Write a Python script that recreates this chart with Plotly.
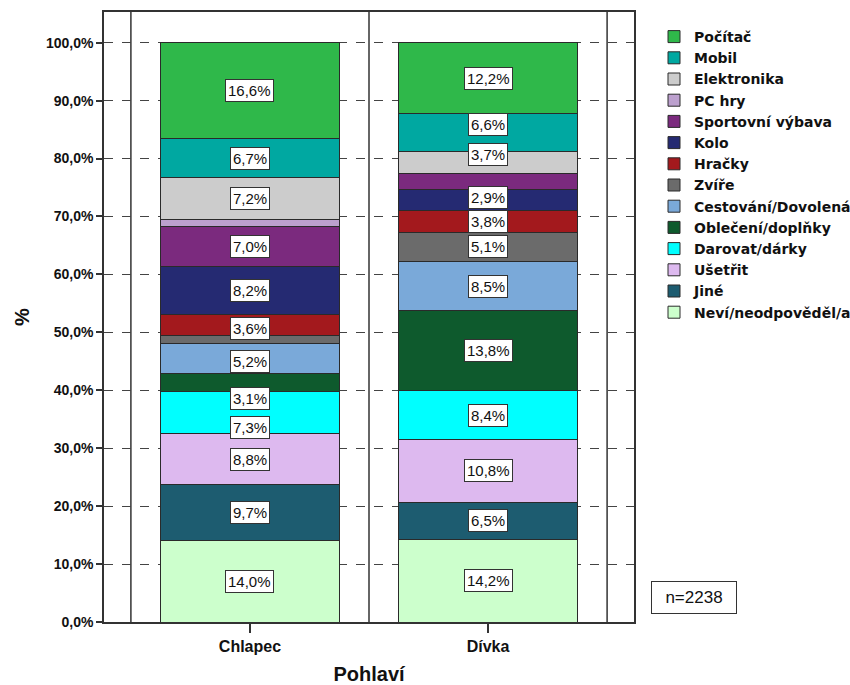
import plotly.graph_objects as go

categories = ["Chlapec", "Dívka"]

# series listed bottom -> top of stack
series_names = [
    "Neví/neodpověděl/a", "Jiné", "Ušetřit", "Darovat/dárky", "Oblečení/doplňky",
    "Cestování/Dovolená", "Zvíře", "Hračky", "Kolo", "Sportovní výbava",
    "PC hry", "Elektronika", "Mobil", "Počítač",
]
chlapec = [14.0, 9.7, 8.8, 7.3, 3.1, 5.2, 1.4, 3.6, 8.2, 7.0, 1.2, 7.2, 6.7, 16.6]
divka   = [14.2, 6.5, 10.8, 8.4, 13.8, 8.5, 5.1, 3.8, 3.5, 2.9, 0.0, 3.7, 6.6, 12.2]

colors = [
    "#CCFFCC", "#1D5C70", "#DDB9EF", "#00FFFF", "#0E5A2D",
    "#7AA9D9", "#6B6B6B", "#A3191D", "#252A72", "#7B2A7E",
    "#BCA0CE", "#CCCCCC", "#00A8A1", "#2FB84A",
]

y_ticks = [0, 10, 20, 30, 40, 50, 60, 70, 80, 90, 100]
y_ticktext = ["0,0%", "10,0%", "20,0%", "30,0%", "40,0%", "50,0%",
              "60,0%", "70,0%", "80,0%", "90,0%", "100,0%"]
n_text = "n=2238"

# label placement tweaks (in % units) and hidden labels, as in the original
label_nudge = {
    ("Oblečení/doplňky", 0): -2.7, ("Darovat/dárky", 0): -2.6,
    ("Cestování/Dovolená", 0): -0.5, ("Hračky", 0): -0.6,
    ("Mobil", 1): 1.3, ("Elektronika", 1): 1.4, ("Sportovní výbava", 1): -2.7,
}
label_hidden = {("Zvíře", 0), ("PC hry", 0), ("PC hry", 1), ("Kolo", 1)}

FONT = "Liberation Sans, Arial, sans-serif"
x_pos = [0, 1]

L, R, T, B = 104, 216, 12, 63
W, H = 850, 685
pw, ph = W - L - R, H - T - B

fig = go.Figure()
for i, name in enumerate(series_names):
    fig.add_trace(go.Bar(
        x=x_pos, y=[chlapec[i], divka[i]], name=name,
        marker=dict(color=colors[i], line=dict(color="#2a2a2a", width=1)),
        width=0.75, hoverinfo="name+y",
    ))

# value labels
annotations = []
for ci, vals in enumerate([chlapec, divka]):
    base = 0.0
    for i, v in enumerate(vals):
        name = series_names[i]
        center = base + v / 2
        base += v
        if (name, ci) in label_hidden or v <= 0:
            continue
        y = center + label_nudge.get((name, ci), 0)
        annotations.append(dict(
            x=x_pos[ci], y=y, xref="x", yref="y",
            xanchor="center", yanchor="middle",
            text=("%.1f%%" % v).replace(".", ","), showarrow=False,
            font=dict(family=FONT, size=15, color="#111"),
            bgcolor="white", bordercolor="#333", borderwidth=1, borderpad=2,
        ))

annotations.append(dict(
    x=(694 - L) / pw, y=(H - B - 597) / ph, xref="paper", yref="paper",
    xanchor="center", yanchor="middle",
    text=n_text, showarrow=False, width=84, height=31,
    font=dict(family=FONT, size=17, color="#111"),
    bgcolor="white", bordercolor="#333", borderwidth=1, borderpad=0,
))

fig.update_layout(
    template="none",
    width=W, height=H,
    margin=dict(l=L, r=R, t=T, b=B, autoexpand=False),
    paper_bgcolor="white", plot_bgcolor="white",
    barmode="stack", bargap=0.25,
    font=dict(family=FONT, color="#111"),
    showlegend=True,
    legend=dict(
        traceorder="reversed", x=(654 - L) / pw, y=(H - B - 21) / ph,
        xanchor="left", yanchor="top",
        font=dict(family="DejaVu Sans, sans-serif", size=14, color="#111", weight="bold"),
        bgcolor="rgba(0,0,0,0)", borderwidth=0, tracegroupgap=0,
    ),
    annotations=annotations,
)

fig.update_xaxes(
    range=[-0.613, 1.613], tickvals=x_pos, ticktext=categories,
    ticks="outside", ticklen=9, tickcolor="#333", tickwidth=1.5,
    tickfont=dict(family=FONT, size=16, weight="bold", color="#111"),
    showline=True, linecolor="#333", linewidth=1.5, mirror=True,
    showgrid=False, zeroline=False, automargin=False,
    title=dict(text="Pohlaví", font=dict(family=FONT, size=20, weight="bold", color="#111"), standoff=14),
)
fig.update_yaxes(
    range=[0, 105.3], tickvals=y_ticks, ticktext=y_ticktext,
    ticks="outside", ticklen=6, tickcolor="#333", tickwidth=1.5,
    tickfont=dict(family=FONT, size=14, weight="bold", color="#111"),
    showline=True, linecolor="#333", linewidth=1.5, mirror=True,
    showgrid=True, gridcolor="#444", griddash="dash", gridwidth=1,
    zeroline=False, automargin=False,
    title=dict(text="%", font=dict(family=FONT, size=20, weight="bold", color="#111"), standoff=11),
)

# category divider lines
for xv in [-0.5, 0.5, 1.5]:
    fig.add_shape(type="line", x0=xv, x1=xv, y0=0, y1=1, xref="x", yref="paper",
                  line=dict(color="#333", width=1.5), layer="below")

# remove the browser's default 8px body margin so the figure sits at the page origin
fig.write_html("out.html", config={"displayModeBar": False},
               post_script="document.body.style.margin='0';")
